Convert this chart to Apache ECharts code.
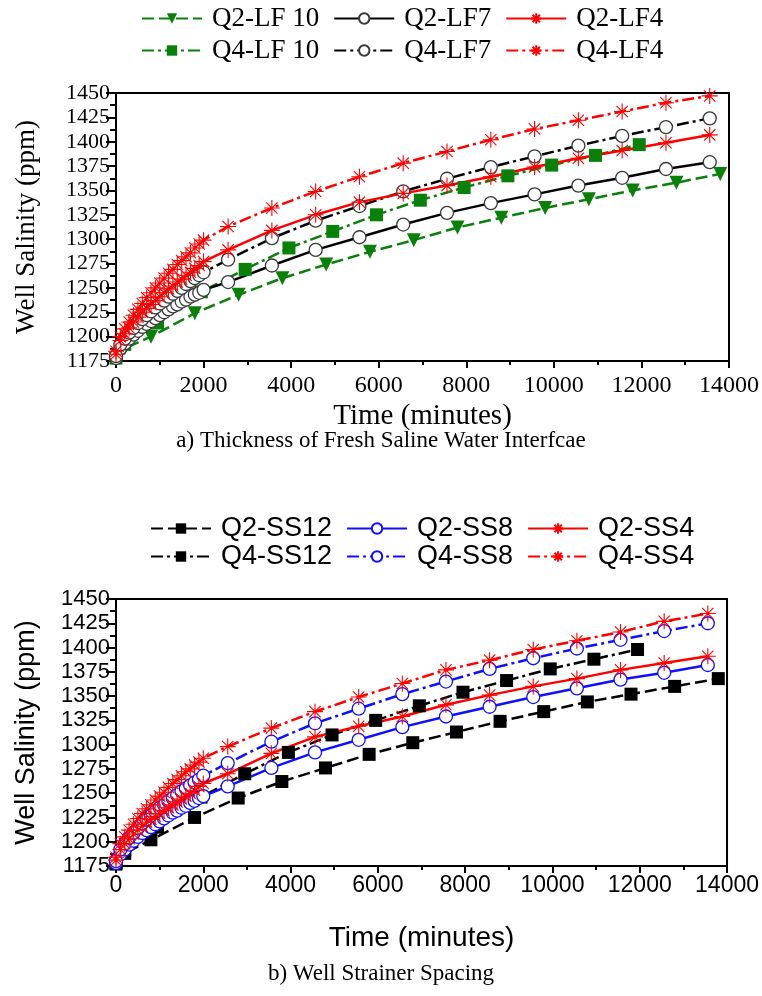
<!DOCTYPE html>
<html>
<head>
<meta charset="utf-8">
<script src="https://cdn.jsdelivr.net/npm/echarts@6/dist/echarts.min.js"></script>
<style>
  html, body { margin: 0; padding: 0; background: #ffffff; }
  #chart { width: 762px; height: 996px; }
</style>
</head>
<body>
<div id="chart"></div>
<script>
// ---- time axes (minutes) ----
const timeDense = [0, 100, 200, 300, 400, 500, 600, 700, 800, 900, 1000, 1100, 1200, 1300, 1400, 1500, 1600, 1700, 1800, 1900, 2000,
  2560, 3560, 4560, 5560, 6560, 7560, 8560, 9560, 10560, 11560, 12560, 13560];
const timeQ2Sparse = [0, 200, 800, 1800, 2800, 3800, 4800, 5800, 6800, 7800, 8800, 9800, 10800, 11800, 12800, 13800];
const timeQ4Sparse = [0, 200, 950, 1950, 2950, 3950, 4950, 5950, 6950, 7950, 8950, 9950, 10950, 11950];

// ---- a) thickness of fresh / saline water interface ----
const q2LF10 = [1177, 1188, 1200, 1224, 1243, 1260, 1274, 1287, 1299, 1312, 1322, 1332, 1341, 1350, 1358, 1367];
const q4LF10 = [1178, 1192, 1214, 1246, 1269, 1291, 1308, 1325, 1340, 1353, 1365, 1376, 1386, 1397];
const q2LF7 = [1178, 1188, 1193, 1198, 1202, 1206, 1210, 1213, 1216, 1219, 1222, 1225, 1228, 1231, 1233, 1236, 1238, 1241, 1243, 1245, 1248,
  1256, 1273, 1289, 1302, 1315, 1327, 1337, 1346, 1355, 1363, 1372, 1379];
const q4LF7 = [1180, 1192, 1198, 1204, 1209, 1214, 1218, 1222, 1226, 1230, 1234, 1237, 1241, 1244, 1247, 1250, 1254, 1257, 1260, 1263, 1266,
  1279, 1301, 1319, 1334, 1349, 1362, 1374, 1385, 1396, 1406, 1415, 1424];
const q2LF4 = [1182, 1196, 1203, 1209, 1215, 1220, 1225, 1229, 1233, 1237, 1241, 1245, 1249, 1252, 1256, 1259, 1263, 1266, 1270, 1273, 1277,
  1289, 1309, 1325, 1338, 1347, 1355, 1364, 1374, 1383, 1391, 1399, 1407];
const q4LF4 = [1185, 1200, 1208, 1215, 1222, 1228, 1234, 1240, 1245, 1250, 1255, 1260, 1265, 1269, 1274, 1278, 1282, 1286, 1291, 1295, 1299,
  1313, 1332, 1349, 1364, 1378, 1390, 1402, 1413, 1422, 1431, 1440, 1447];

// ---- b) well strainer spacing ----
const q2SS12 = [1177, 1188, 1202, 1225, 1245, 1262, 1276, 1290, 1302, 1313, 1324, 1334, 1344, 1352, 1360, 1368];
const q4SS12 = [1178, 1192, 1215, 1246, 1270, 1292, 1310, 1325, 1340, 1354, 1366, 1378, 1388, 1398];
const q2SS8 = [1178, 1187, 1192, 1197, 1201, 1205, 1209, 1212, 1215, 1218, 1221, 1224, 1227, 1230, 1232, 1235, 1237, 1240, 1242, 1245, 1247,
  1257, 1276, 1292, 1305, 1318, 1329, 1339, 1349, 1358, 1367, 1374, 1382];
const q4SS8 = [1180, 1192, 1198, 1204, 1209, 1214, 1219, 1223, 1227, 1231, 1235, 1238, 1242, 1245, 1248, 1252, 1255, 1258, 1261, 1264, 1268,
  1281, 1303, 1322, 1337, 1352, 1365, 1378, 1389, 1399, 1408, 1417, 1425];
const q2SS4 = [1181, 1192, 1198, 1203, 1208, 1212, 1216, 1220, 1223, 1226, 1229, 1232, 1235, 1238, 1241, 1244, 1247, 1250, 1253, 1257, 1260,
  1270, 1291, 1308, 1319, 1329, 1341, 1351, 1360, 1368, 1377, 1384, 1391];
const q4SS4 = [1184, 1198, 1205, 1212, 1218, 1224, 1229, 1234, 1238, 1243, 1247, 1251, 1256, 1260, 1264, 1268, 1272, 1275, 1279, 1282, 1286,
  1298, 1317, 1334, 1349, 1363, 1377, 1387, 1398, 1407, 1416, 1427, 1435];

// ---- axis ticks and text ----
const yTicks = { min: 1175, max: 1450, step: 25 };
const xTicks = { min: 0, max: 14000, step: 2000 };
const legendRowsA = [['Q2-LF 10', 'Q2-LF7', 'Q2-LF4'], ['Q4-LF 10', 'Q4-LF7', 'Q4-LF4']];
const legendRowsB = [['Q2-SS12', 'Q2-SS8', 'Q2-SS4'], ['Q4-SS12', 'Q4-SS8', 'Q4-SS4']];

const SERIF = 'Liberation Serif';
const SANS = 'Liberation Sans';

const GREEN = '#0a800a';
const RED = '#ff0000';
const BLUE = '#1010ff';
const BLACK = '#000000';

const ASTERISK = 'path://M0,-10L0,10M-10,0L10,0M-7.07,-7.07L7.07,7.07M-7.07,7.07L7.07,-7.07';
const SOLID = 'solid';
const DASHED = [12, 5];
const DASHDOT = [12, 4, 3, 4];

function pairs(xs, ys) { return ys.map((y, i) => [xs[i], y]); }

function makeSeries(name, idx, xs, ys, color, dash, marker) {
  const s = {
    name, type: 'line', xAxisIndex: idx, yAxisIndex: idx,
    data: pairs(xs, ys), showAllSymbol: true, animation: false,
    lineStyle: { color, width: 2.5, type: dash },
    color
  };
  if (marker === 'tri') {
    Object.assign(s, { symbol: 'triangle', symbolRotate: 180, symbolSize: 14,
      itemStyle: { color, borderColor: color, borderWidth: 0 } });
  } else if (marker === 'square') {
    Object.assign(s, { symbol: 'rect', symbolSize: 13,
      itemStyle: { color, borderColor: color, borderWidth: 0 } });
  } else if (marker === 'circle') {
    Object.assign(s, { symbol: 'circle', symbolSize: 13,
      itemStyle: { color: '#ffffff', borderColor: color === BLACK ? '#3a3a3a' : color, borderWidth: 1.3 } });
  } else if (marker === 'star') {
    Object.assign(s, { symbol: ASTERISK, symbolSize: 16,
      itemStyle: { color: 'rgba(0,0,0,0)', borderColor: color, borderWidth: 1.1 } });
  }
  return s;
}

function xAxisFor(idx, font, labelSize, labelMargin, nameSize, nameGap) {
  return {
    type: 'value', gridIndex: idx, min: xTicks.min, max: xTicks.max, interval: xTicks.step,
    name: 'Time (minutes)', nameLocation: 'middle', nameGap,
    nameTextStyle: { fontFamily: font, fontSize: nameSize, color: '#000' },
    axisLine: { onZero: false, lineStyle: { color: '#000', width: 2 } },
    axisTick: { show: true, inside: false, length: 7, lineStyle: { color: '#000', width: 2 } },
    minorTick: { show: true, splitNumber: 2, length: 4, lineStyle: { color: '#000', width: 2 } },
    axisLabel: { fontFamily: font, fontSize: labelSize, color: '#000', margin: labelMargin, formatter: v => String(v) },
    splitLine: { show: false }
  };
}

function yAxisFor(idx, font) {
  return {
    type: 'value', gridIndex: idx, min: yTicks.min, max: yTicks.max, interval: yTicks.step,
    name: 'Well Salinity (ppm)', nameLocation: 'middle', nameGap: 76, nameRotate: 90,
    nameTextStyle: { fontFamily: font, fontSize: 27, color: '#000' },
    axisLine: { onZero: false, lineStyle: { color: '#000', width: 2 } },
    axisTick: { show: true, inside: false, length: 10, lineStyle: { color: '#000', width: 2 } },
    minorTick: { show: true, splitNumber: 2, length: 6, lineStyle: { color: '#000', width: 2 } },
    axisLabel: { fontFamily: font, fontSize: 22, color: '#000', margin: 6, formatter: v => String(v) },
    splitLine: { show: false }
  };
}

function legendRow(names, top, left, font) {
  return {
    data: names, top, left, orient: 'horizontal', padding: 0,
    itemWidth: 60, itemHeight: 13, itemGap: 14,
    textStyle: { fontFamily: font, fontSize: 27, color: '#000', padding: [0, 0, 0, 5] },
    selectedMode: false
  };
}

const series = [
  makeSeries('Q2-LF 10', 0, timeQ2Sparse, q2LF10, GREEN, DASHED, 'tri'),
  makeSeries('Q4-LF 10', 0, timeQ4Sparse, q4LF10, GREEN, DASHDOT, 'square'),
  makeSeries('Q2-LF7', 0, timeDense, q2LF7, BLACK, SOLID, 'circle'),
  makeSeries('Q4-LF7', 0, timeDense, q4LF7, BLACK, DASHDOT, 'circle'),
  makeSeries('Q2-LF4', 0, timeDense, q2LF4, RED, SOLID, 'star'),
  makeSeries('Q4-LF4', 0, timeDense, q4LF4, RED, DASHDOT, 'star'),

  makeSeries('Q2-SS12', 1, timeQ2Sparse, q2SS12, BLACK, DASHED, 'square'),
  makeSeries('Q4-SS12', 1, timeQ4Sparse, q4SS12, BLACK, DASHDOT, 'square'),
  makeSeries('Q2-SS8', 1, timeDense, q2SS8, BLUE, SOLID, 'circle'),
  makeSeries('Q4-SS8', 1, timeDense, q4SS8, BLUE, DASHDOT, 'circle'),
  makeSeries('Q2-SS4', 1, timeDense, q2SS4, RED, SOLID, 'star'),
  makeSeries('Q4-SS4', 1, timeDense, q4SS4, RED, DASHDOT, 'star')
];

const chart = echarts.init(document.getElementById('chart'), null, { renderer: 'canvas' });
chart.setOption({
  backgroundColor: '#ffffff',
  animation: false,
  grid: [
    { left: 116, top: 93, width: 614, height: 268, show: true, borderColor: '#000', borderWidth: 2, backgroundColor: 'transparent' },
    { left: 116, top: 599, width: 614, height: 267, show: true, borderColor: '#000', borderWidth: 2, backgroundColor: 'transparent' }
  ],
  xAxis: [xAxisFor(0, SERIF, 24, 13, 29, 41), xAxisFor(1, SANS, 23, 8, 28, 58)],
  yAxis: [yAxisFor(0, SERIF), yAxisFor(1, SANS)],
  legend: [
    legendRow(legendRowsA[0], 5, 141, SERIF),
    legendRow(legendRowsA[1], 37, 141, SERIF),
    legendRow(legendRowsB[0], 515, 150, SANS),
    legendRow(legendRowsB[1], 543, 150, SANS)
  ],
  title: [
    { text: 'a) Thickness of Fresh Saline Water Interfcae', left: 'center', top: 429, padding: 0,
      textStyle: { fontFamily: SERIF, fontSize: 23, fontWeight: 'normal', color: '#000' } },
    { text: 'b) Well Strainer Spacing', left: 'center', top: 962, padding: 0,
      textStyle: { fontFamily: SERIF, fontSize: 23, fontWeight: 'normal', color: '#000' } }
  ],
  series
});
</script>
</body>
</html>
